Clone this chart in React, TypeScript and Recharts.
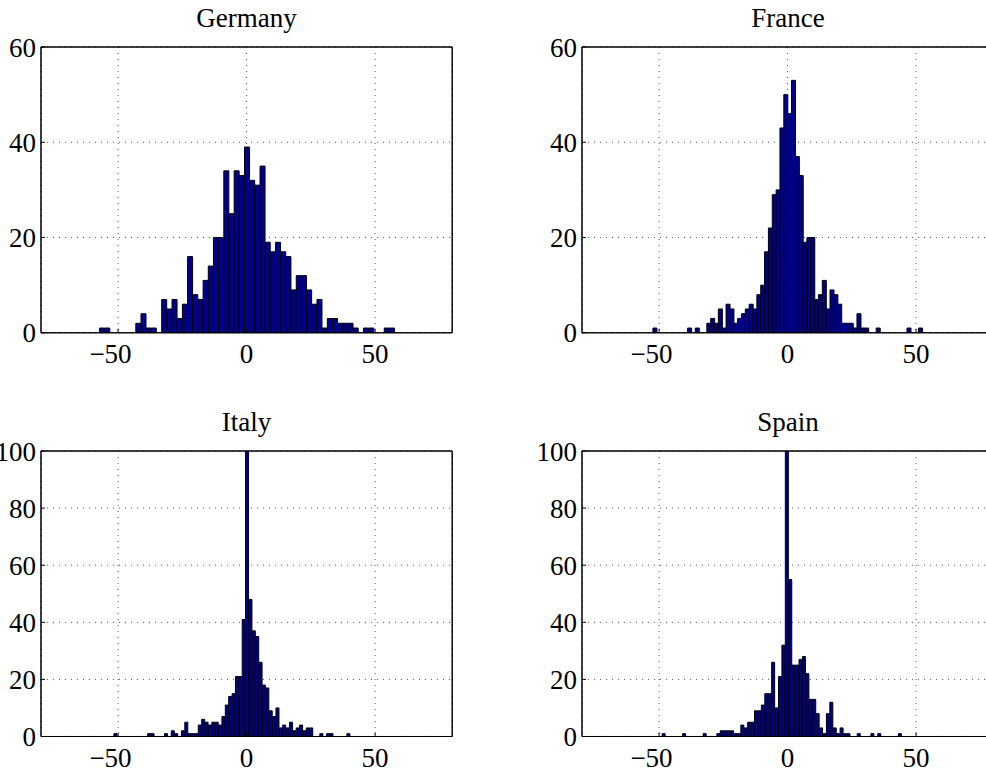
import React from 'react';
import { BarChart, Bar, XAxis, YAxis, CartesianGrid, ReferenceArea } from 'recharts';

// ---------- data (histogram counts) ----------
const germanyCounts = [1, 1, 0, 0, 0, 0, 0, 2, 4, 1, 1, 0, 7, 5, 7, 3, 6, 16, 8, 7, 11, 14, 20, 20, 34, 25, 34, 33, 39, 32, 31, 35, 19, 17, 19, 17, 16, 9, 12, 12, 9, 6, 7, 1, 3, 3, 2, 2, 2, 1, 0, 1, 1, 0, 0, 1, 1];
const germanyBinStart = -57.2;
const germanyBinWidth = 2.014;

const franceCounts = [1, 0, 0, 0, 0, 0, 0, 0, 0, 1, 0, 1, 0, 0, 2, 3, 2, 5, 1, 6, 5, 2, 3, 4, 5, 6, 5, 8, 10, 17, 22, 29, 30, 43, 50, 46, 53, 37, 33, 19, 20, 20, 7, 8, 11, 5, 9, 8, 6, 2, 2, 2, 1, 4, 1, 1, 0, 0, 1, 0, 0, 0, 0, 0, 0, 0, 1, 0, 0, 1];
const franceBinStart = -52.4;
const franceBinWidth = 1.498;

const italyCounts = [1, 0, 0, 0, 0, 0, 0, 0, 0, 0, 1, 1, 0, 0, 0, 1, 0, 2, 1, 0, 2, 5, 1, 1, 1, 4, 6, 5, 4, 5, 5, 4, 7, 11, 14, 15, 21, 21, 41, 112, 48, 37, 35, 26, 18, 17, 9, 7, 10, 3, 4, 3, 5, 2, 3, 4, 2, 3, 3, 0, 0, 1, 0, 1, 1, 0, 0, 0, 0, 1];
const italyBinStart = -51.63;
const italyBinWidth = 1.3137;

const spainCounts = [1, 0, 0, 0, 0, 0, 1, 0, 0, 0, 0, 0, 1, 0, 0, 0, 1, 2, 2, 2, 2, 1, 1, 4, 3, 5, 5, 9, 9, 11, 15, 15, 26, 10, 21, 32, 115, 55, 25, 25, 27, 28, 22, 13, 13, 8, 3, 1, 8, 12, 3, 1, 3, 1, 1, 0, 0, 1, 0, 0, 0, 1, 0, 1, 0, 0, 0, 0, 0, 1];
const spainBinStart = -48.83;
const spainBinWidth = 1.332;

const xTicks = [-50, 0, 50];
const xMin = -80;
const xMax = 80;
const yTicksTop = [0, 20, 40, 60];
const yTicksBottom = [0, 20, 40, 60, 80, 100];

const titles = ['Germany', 'France', 'Italy', 'Spain'];

// histogram table built from the bin grid and counts
const toBins = (start: number, width: number, counts: number[]) =>
  counts.map((n, i) => ({ x: start + width * (i + 0.5), n }));

const germanyBins = toBins(germanyBinStart, germanyBinWidth, germanyCounts);
const franceBins = toBins(franceBinStart, franceBinWidth, franceCounts);
const italyBins = toBins(italyBinStart, italyBinWidth, italyCounts);
const spainBins = toBins(spainBinStart, spainBinWidth, spainCounts);

// ---------- styling / layout ----------
const FS = 27;
const FONT = '"Liberation Serif", "Times New Roman", Times, serif';
const BAR_FILL = '#00008f';

const rects = [
  { x: 41, y: 46.5, w: 411.2, h: 285.8 },
  { x: 582.4, y: 46.5, w: 411.2, h: 285.8 },
  { x: 41, y: 450.8, w: 411.2, h: 285.5 },
  { x: 582.4, y: 450.8, w: 411.2, h: 285.5 },
];

const panels = [
  { title: titles[0], data: germanyBins, yMax: 60, yTicks: yTicksTop, rect: rects[0] },
  { title: titles[1], data: franceBins, yMax: 60, yTicks: yTicksTop, rect: rects[1] },
  { title: titles[2], data: italyBins, yMax: 100, yTicks: yTicksBottom, rect: rects[2] },
  { title: titles[3], data: spainBins, yMax: 100, yTicks: yTicksBottom, rect: rects[3] },
];

function XTick(props: any) {
  const { x, y, payload } = props;
  const v = Number(payload.value);
  const digits = String(Math.abs(v));
  const neg = v < 0;
  return (
    <text
      x={neg ? x + digits.length * FS * 0.25 : x}
      y={y + 30.2}
      textAnchor={neg ? 'end' : 'middle'}
      fontSize={FS}
      fontFamily={FONT}
      fill="#000"
    >
      {neg ? '\u2212' + digits : digits}
    </text>
  );
}

const ML = 60;
const MT = 60;
const MR = 20;
const MB = 50;
const EDGE = 1; // thickness reserved for the mirrored top / right axes

const lineStyle = { stroke: '#000', strokeWidth: 1 };

function Panel({ p }: { p: (typeof panels)[number] }) {
  const r = p.rect;
  return (
    <div style={{ position: 'absolute', left: r.x - ML, top: r.y - MT }}>
      <BarChart
        width={r.w + ML + MR}
        height={r.h + MT + MB}
        data={p.data}
        margin={{ top: MT - EDGE, right: MR - EDGE, bottom: 0, left: 0 }}
        barCategoryGap={0}
        barGap={0}
      >
        <CartesianGrid stroke="#555" strokeDasharray="1 5" xAxisId={0} yAxisId={0} />
        <XAxis
          dataKey="x"
          type="number"
          domain={[xMin, xMax]}
          ticks={xTicks}
          allowDataOverflow
          interval={0}
          height={MB}
          tickSize={-4}
          tickMargin={4}
          tick={<XTick />}
          axisLine={lineStyle}
          tickLine={lineStyle}
        />
        <XAxis
          xAxisId="top"
          orientation="top"
          type="number"
          domain={[xMin, xMax]}
          ticks={xTicks}
          allowDataOverflow
          interval={0}
          height={EDGE}
          tickSize={-4}
          tick={false}
          axisLine={lineStyle}
          tickLine={lineStyle}
        />
        <YAxis
          type="number"
          domain={[0, p.yMax]}
          ticks={p.yTicks}
          allowDataOverflow
          interval={0}
          width={ML}
          tickSize={-4}
          tickMargin={9}
          tick={{ fill: '#000', fontSize: FS, fontFamily: FONT }}
          axisLine={lineStyle}
          tickLine={lineStyle}
        />
        <YAxis
          yAxisId="right"
          orientation="right"
          type="number"
          domain={[0, p.yMax]}
          ticks={p.yTicks}
          allowDataOverflow
          interval={0}
          width={EDGE}
          tickSize={-4}
          tick={false}
          axisLine={lineStyle}
          tickLine={lineStyle}
        />
        <Bar dataKey="n" fill={BAR_FILL} stroke="#000" strokeWidth={1} isAnimationActive={false} />
        <ReferenceArea
          x1={xMin}
          x2={xMax}
          y1={0}
          y2={p.yMax}
          fill="none"
          fillOpacity={0}
          stroke="#000"
          strokeWidth={1}
          strokeOpacity={1}
          ifOverflow="visible"
        />
      </BarChart>
    </div>
  );
}

export default function App() {
  return (
    <div
      style={{
        position: 'absolute',
        left: 0,
        top: 0,
        width: 986,
        height: 776,
        overflow: 'hidden',
        background: '#fff',
      }}
    >
      {panels.map((p) => (
        <Panel key={p.title} p={p} />
      ))}
      <svg
        width={986}
        height={776}
        style={{ position: 'absolute', left: 0, top: 0, pointerEvents: 'none' }}
      >
        {panels.map((p) => (
          <text
            key={p.title}
            x={p.rect.x + p.rect.w / 2}
            y={p.rect.y - 20}
            textAnchor="middle"
            fontSize={FS}
            fontFamily={FONT}
            fill="#000"
          >
            {p.title}
          </text>
        ))}
      </svg>
    </div>
  );
}
